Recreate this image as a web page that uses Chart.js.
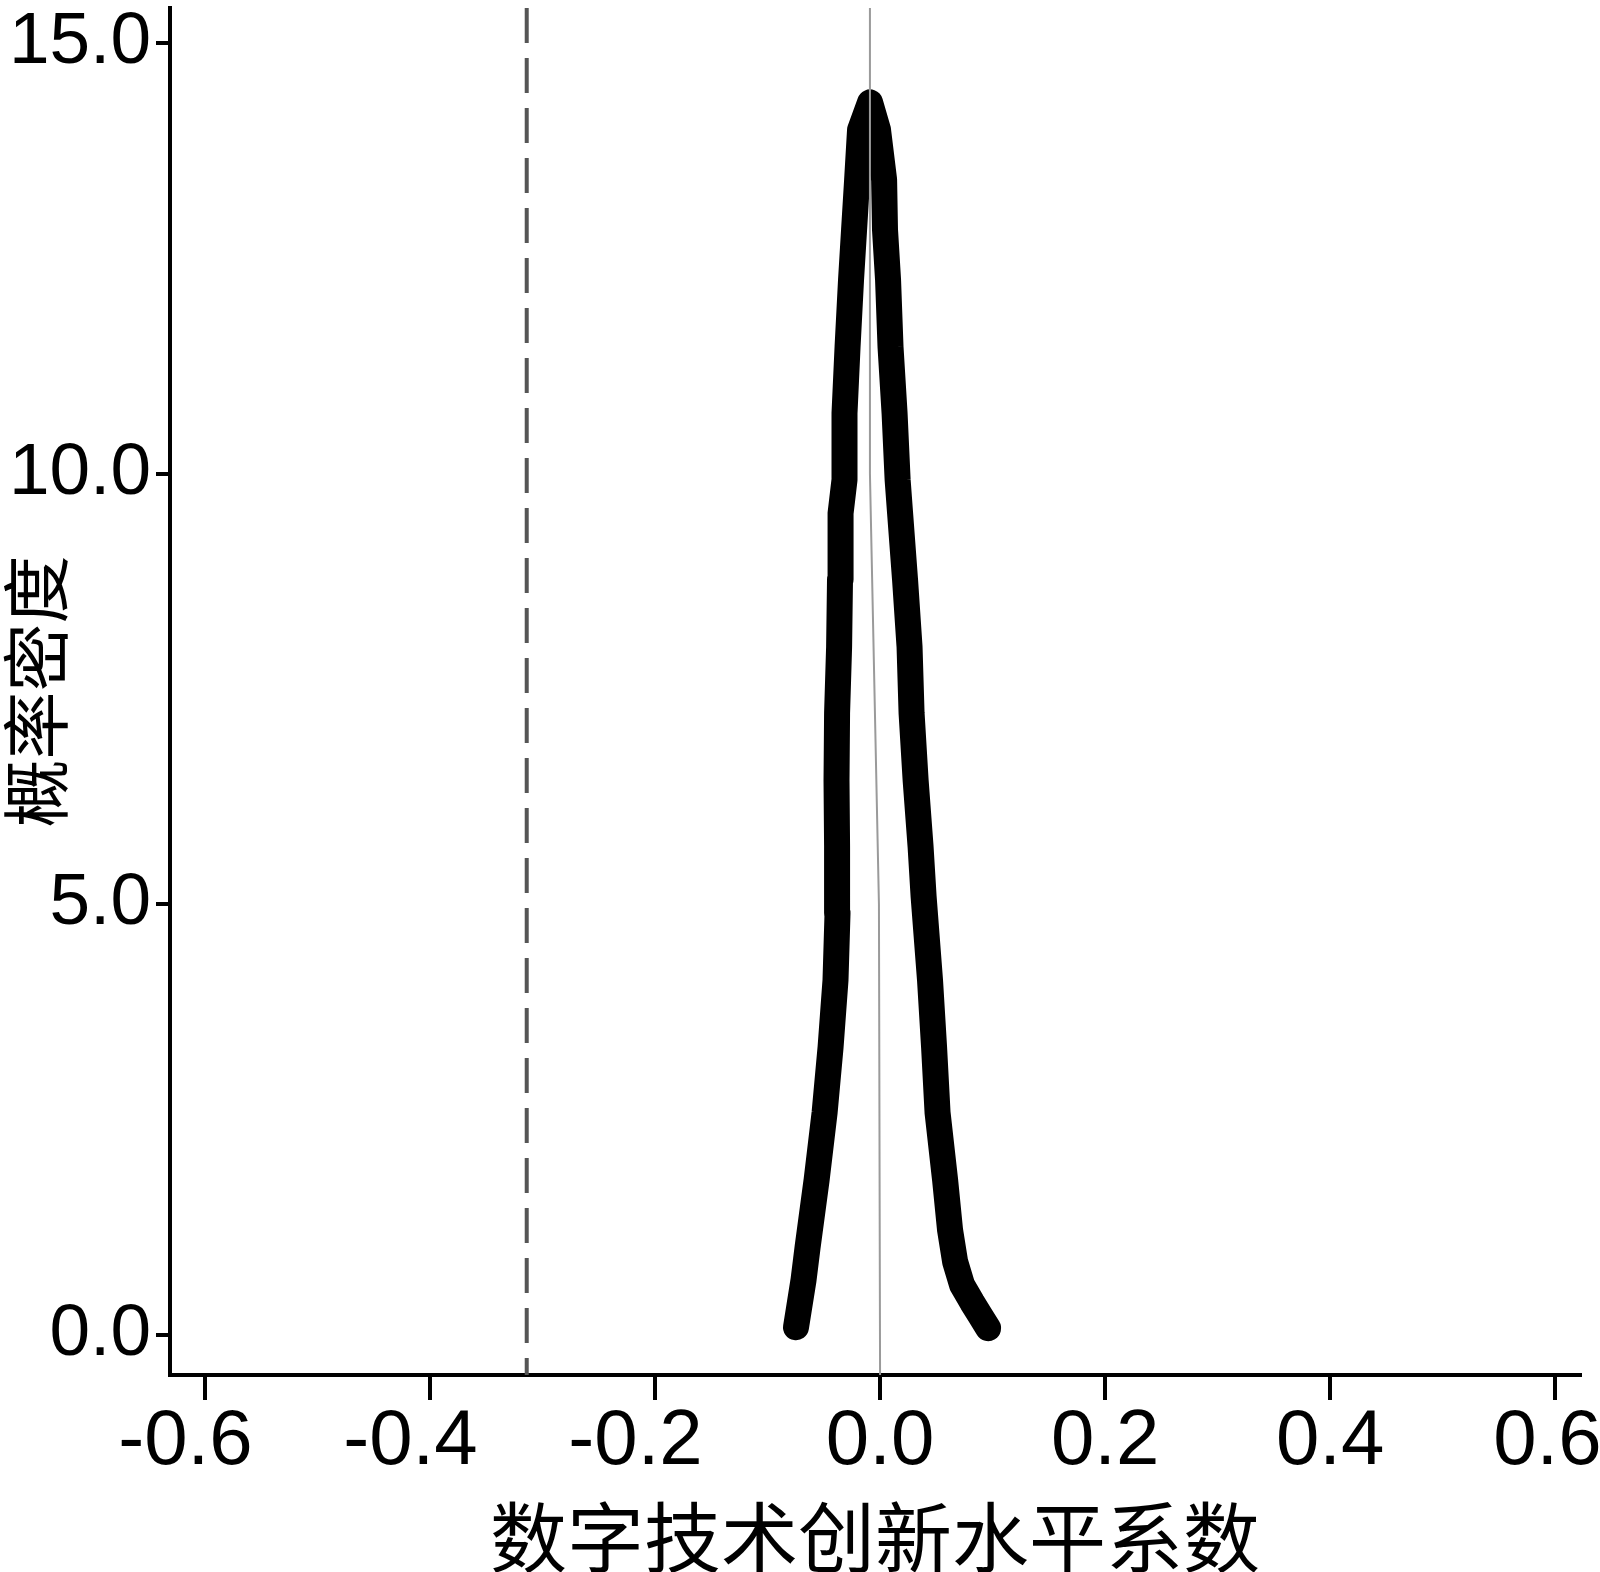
<!DOCTYPE html>
<html lang="zh">
<head>
<meta charset="UTF-8">
<title>数字技术创新水平系数 概率密度</title>
<script src="https://cdn.jsdelivr.net/npm/chart.js"></script>
<style>
  html, body { margin: 0; padding: 0; background: #fff; }
  canvas { display: block; }
</style>
</head>
<body>
<canvas id="densityChart" width="1600" height="1572"></canvas>
<script>
  // 核密度曲线
  const densityX = [-0.0747, -0.068, -0.0644, -0.0564, -0.0493, -0.044, -0.0396, -0.0378, -0.0382, -0.0387,
                    -0.0382, -0.0364, -0.0356, -0.0351, -0.0316, -0.0316, -0.0289, -0.0258, -0.0231, -0.0204,
                    -0.0178, -0.0089, -0.0018, 0.0036, 0.0044, 0.0071, 0.0093, 0.0129, 0.0156, 0.0178,
                    0.0222, 0.0262, 0.028, 0.0316, 0.036, 0.0387, 0.0444, 0.048, 0.0511, 0.0578,
                    0.0622, 0.0667, 0.0729, 0.0818, 0.0889, 0.096];
  const densityY = [0.09, 0.64, 1.02, 1.80, 2.58, 3.34, 4.12, 4.90, 5.67, 6.44,
                    7.22, 7.99, 8.77, 9.54, 9.93, 10.70, 11.47, 12.25, 12.83, 13.41,
                    13.99, 14.31, 13.99, 13.41, 12.83, 12.25, 11.47, 10.70, 9.93, 9.54,
                    8.77, 7.99, 7.22, 6.44, 5.67, 5.09, 4.12, 3.34, 2.58, 1.80,
                    1.22, 0.85, 0.58, 0.38, 0.23, 0.08];
  // 零参考线（原图略有倾斜）
  const zeroLineX = [-0.009, -0.009, -0.001, 0];
  const zeroLineY = [15.406, 10, 5, -0.464];
  const xTicks = [-0.6, -0.4, -0.2, 0.0, 0.2, 0.4, 0.6];
  const yTicks = [0, 5, 10, 15];
  const dashedX = -0.314;   // 虚线位置
  const xRange = [-0.631, 0.622];
  const yRange = [-0.464, 15.406];

  const curve = densityX.map((x, i) => ({ x: x, y: densityY[i] }));
  const zeroLine = zeroLineX.map((x, i) => ({ x: x, y: zeroLineY[i] }));

  // 去掉 Chart.js 为首尾刻度标签预留的边距
  function noLabelPadding(s) {
    s.paddingTop = 0;
    s.paddingBottom = 0;
    s.paddingLeft = 0;
    s.paddingRight = 0;
  }

  // 原图负号标签整体偏左，最右标签也略偏左，用尾部空白模拟
  function xLabel(v, i, ticks) {
    let s = Number(v).toFixed(1);
    if (v < 0) s += '\u2002';
    if (i === ticks.length - 1) s += '\u2009';
    return s;
  }

  const ctx = document.getElementById('densityChart').getContext('2d');
  new Chart(ctx, {
    type: 'scatter',
    data: {
      datasets: [
        {
          data: zeroLine,
          showLine: true,
          borderColor: '#9a9a9a',
          borderWidth: 2,
          pointRadius: 0
        },
        {
          data: [{ x: dashedX, y: yRange[1] }, { x: dashedX, y: yRange[0] }],
          showLine: true,
          borderColor: '#555',
          borderWidth: 4,
          borderDash: [35, 15],
          pointRadius: 0
        },
        {
          data: curve,
          showLine: true,
          borderColor: '#000',
          borderWidth: 26,
          borderCapStyle: 'round',
          borderJoinStyle: 'round',
          pointRadius: 0,
          tension: 0
        }
      ]
    },
    options: {
      responsive: false,
      animation: false,
      layout: { padding: { top: 8, right: 20, left: 0, bottom: 0 } },
      plugins: { legend: { display: false }, tooltip: { enabled: false } },
      scales: {
        x: {
          type: 'linear',
          min: xRange[0],
          max: xRange[1],
          afterBuildTicks: s => { s.ticks = xTicks.map(v => ({ value: v })); },
          afterFit: s => { s.height = 197; noLabelPadding(s); },
          grid: { drawOnChartArea: false, drawTicks: true, tickLength: 25, color: '#000', lineWidth: 4 },
          border: { display: true, color: '#000', width: 4 },
          ticks: {
            color: '#000',
            padding: 3,
            maxRotation: 0,
            font: { family: '"Liberation Sans", Arial, sans-serif', size: 78, lineHeight: 1 },
            callback: xLabel
          },
          title: {
            display: true,
            text: '数字技术创新水平系数',
            color: '#000',
            padding: 0,
            font: { family: '"Noto Sans CJK SC", sans-serif', size: 77, lineHeight: 0.9 }
          }
        },
        y: {
          type: 'linear',
          min: yRange[0],
          max: yRange[1],
          afterBuildTicks: s => { s.ticks = yTicks.map(v => ({ value: v })); },
          afterFit: s => { s.width = 170; noLabelPadding(s); },
          grid: { drawOnChartArea: false, drawTicks: true, tickLength: 14, color: '#000', lineWidth: 4 },
          border: { display: true, color: '#000', width: 4 },
          ticks: {
            color: '#000',
            padding: 5,
            font: { family: '"Liberation Sans", Arial, sans-serif', size: 73, lineHeight: 1 },
            callback: v => Number(v).toFixed(1)
          },
          title: {
            display: true,
            text: '概率密度',
            color: '#000',
            padding: { top: 2, bottom: 0 },
            font: { family: '"Noto Sans CJK SC", sans-serif', size: 68, lineHeight: 1 }
          }
        }
      }
    }
  });
</script>
</body>
</html>
